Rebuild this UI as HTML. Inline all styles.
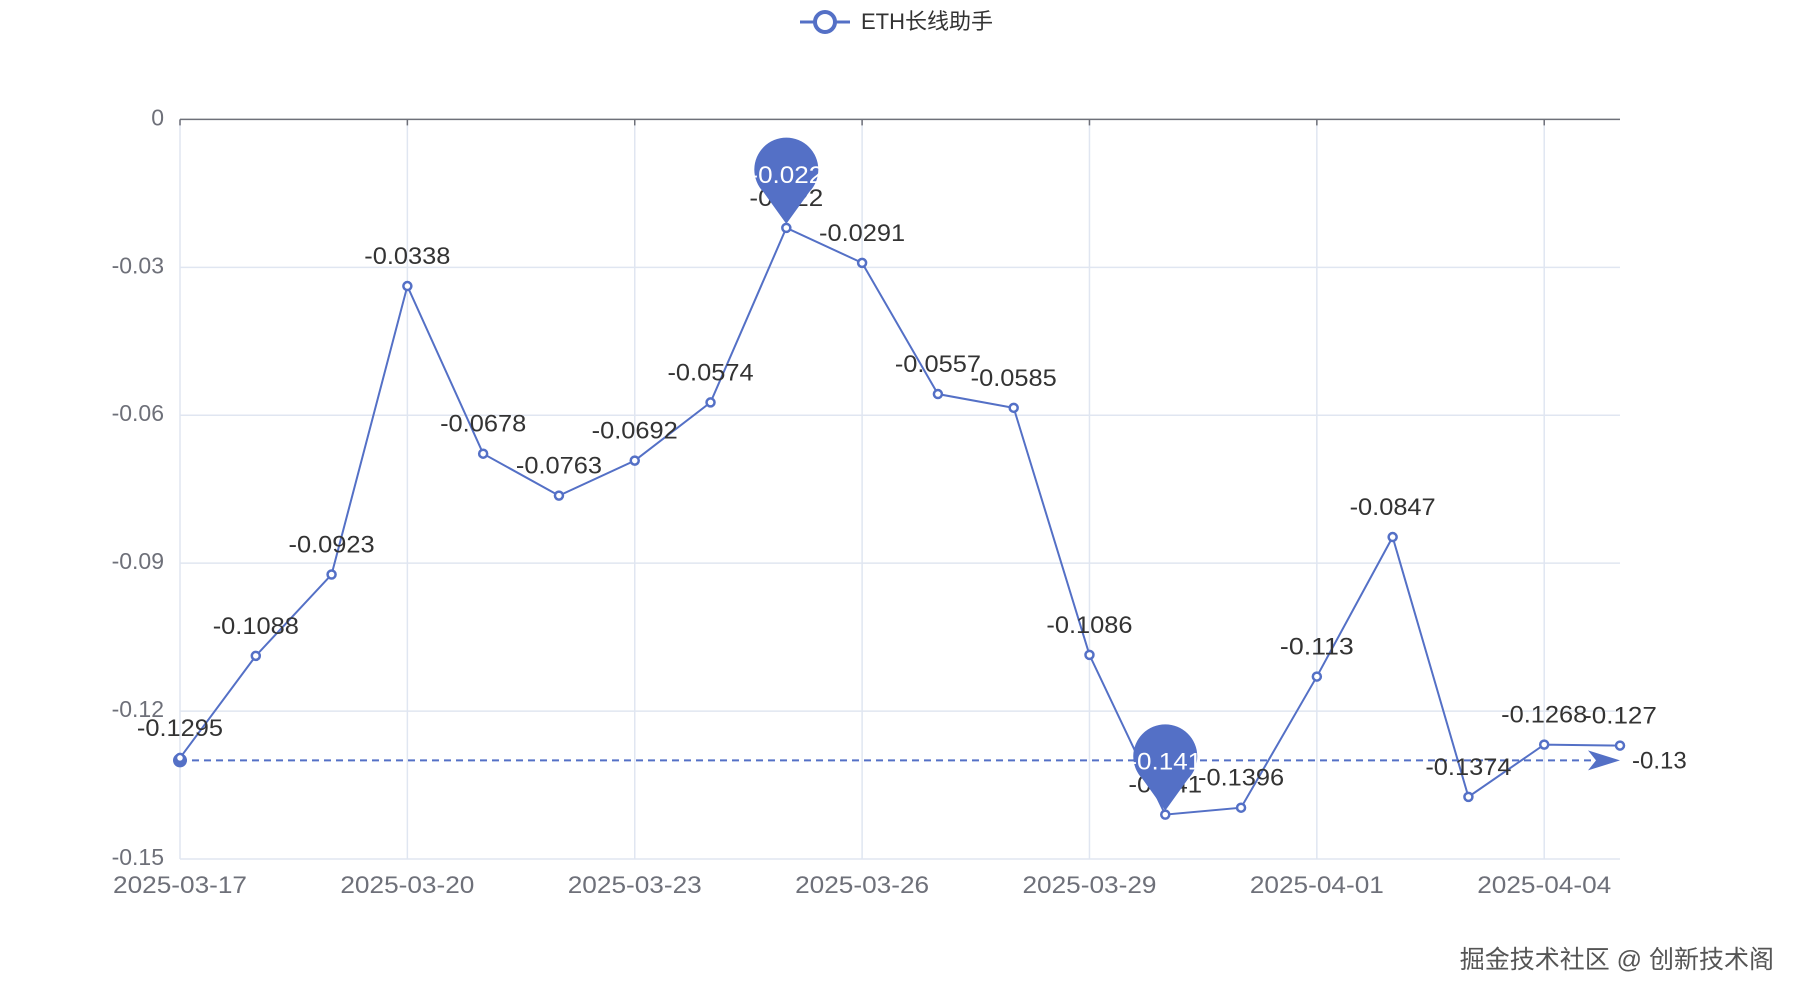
<!DOCTYPE html>
<html><head><meta charset="utf-8"><style>
html,body{margin:0;padding:0;background:#fff;}
svg{display:block;font-family:"Liberation Sans","Noto Sans CJK SC",sans-serif;}
</style></head><body>
<svg id="c" width="1800" height="1000" viewBox="0 0 1800 1000" xmlns="http://www.w3.org/2000/svg"></svg>
<script>
const svg=document.getElementById('c');
const data=[-0.1295,-0.1088,-0.0923,-0.0338,-0.0678,-0.0763,-0.0692,-0.0574,-0.022,-0.0291,-0.0557,-0.0585,-0.1086,-0.141,-0.1396,-0.113,-0.0847,-0.1374,-0.1268,-0.127];
const L=180,R=1620,T=119.4,B=859;
const X=i=>L+i*(R-L)/19, Y=v=>T+(-v)/0.15*(B-T);
let s='';
s+=`<line x1="800" y1="22" x2="850" y2="22" stroke="#5470C6" stroke-width="3"/><circle cx="825" cy="22" r="10" fill="#fff" stroke="#5470C6" stroke-width="4"/>`;
s+=`<text x="861" y="29" font-size="22" fill="#333">ETH长线助手</text>`;
const yl=['0','-0.03','-0.06','-0.09','-0.12','-0.15'];
for(let k=0;k<6;k++){const y=T+k*(B-T)/5;
 if(k>0)s+=`<line x1="${L}" y1="${y}" x2="${R}" y2="${y}" stroke="#E0E6F1" stroke-width="1.5"/>`;
 s+=`<text x="164" y="${y+6}" font-size="23" fill="#6E7079" text-anchor="end">${yl[k]}</text>`;}
const dates=['2025-03-17','2025-03-20','2025-03-23','2025-03-26','2025-03-29','2025-04-01','2025-04-04'];
for(let j=0;j<7;j++){const x=X(j*3);
 s+=`<line x1="${x}" y1="${T}" x2="${x}" y2="${B}" stroke="#E0E6F1" stroke-width="1.5"/>`;
 s+=`<line x1="${x}" y1="${T}" x2="${x}" y2="${T+6}" stroke="#6E7079" stroke-width="1.5"/>`;
 s+=`<text x="${x}" y="893" font-size="24" fill="#6E7079" text-anchor="middle" textLength="134" lengthAdjust="spacingAndGlyphs">${dates[j]}</text>`;}
s+=`<line x1="${L}" y1="${T}" x2="${R}" y2="${T}" stroke="#6E7079" stroke-width="1.5"/>`;
const ym=Y(-0.13);
s+=`<line x1="${L}" y1="${ym}" x2="${R-20}" y2="${ym}" stroke="#5470C6" stroke-width="2" stroke-dasharray="7,5"/>`;
s+=`<path d="M${R},${ym} L${R-32},${ym-10} L${R-24},${ym} L${R-32},${ym+10}Z" fill="#5470C6"/>`;
s+=`<circle cx="${L}" cy="${ym}" r="7" fill="#5470C6"/>`;
s+=`<text x="${R+12}" y="${ym+8}" font-size="24" fill="#333">-0.13</text>`;
s+=`<polyline fill="none" stroke="#5470C6" stroke-width="2" points="${data.map((v,i)=>X(i)+','+Y(v)).join(' ')}"/>`;
data.forEach((v,i)=>{s+=`<circle cx="${X(i)}" cy="${Y(v)}" r="4" fill="#fff" stroke="#5470C6" stroke-width="2.5"/>`;
 s+=`<text x="${X(i)}" y="${Y(v)-22}" font-size="24" fill="#333" text-anchor="middle" textLength="${(String(v).length*12.3).toFixed(1)}" lengthAdjust="spacingAndGlyphs">${v}</text>`;});
function pin(i,v){const x=X(i),y=Y(v),cy=y-58,r=32;
 s+=`<path d="M${x},${y-4} L${x-23},${cy+22} A${r},${r} 0 1 1 ${x+23},${cy+22} Z" fill="#5470C6"/>`;
 s+=`<text x="${x}" y="${cy+13}" font-size="24" fill="#fff" text-anchor="middle" textLength="${(String(v).length*12.3).toFixed(1)}" lengthAdjust="spacingAndGlyphs">${v}</text>`;}
pin(8,-0.022);pin(13,-0.141);
s+=`<text x="1774" y="968" font-size="25" fill="#555" text-anchor="end" stroke="#fff" stroke-width="0.6" paint-order="stroke">掘金技术社区 @ 创新技术阁</text>`;
svg.innerHTML=s;
</script>
</body></html>
